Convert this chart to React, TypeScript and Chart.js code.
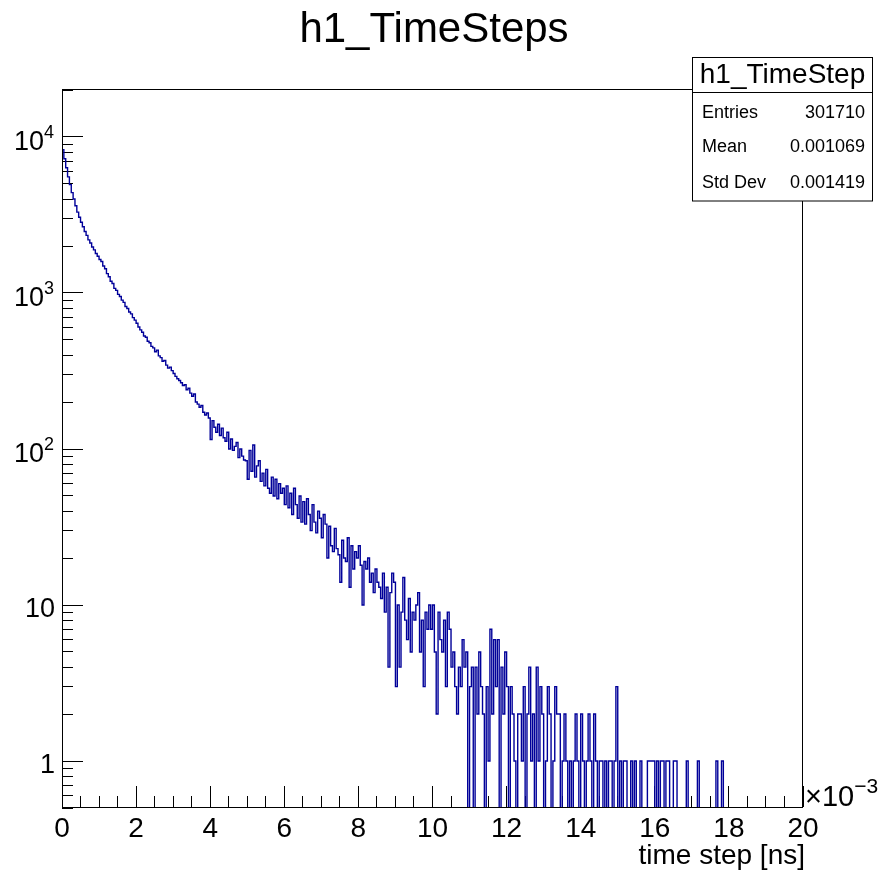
import React, { useEffect, useRef } from 'react';
import { Chart, registerables } from 'chart.js';

Chart.register(...registerables);

// ---------------- data ----------------
const TITLE = 'h1_TimeSteps';
const X_AXIS_TITLE = 'time step [ns]';
const X_EXPONENT_BASE = '\u00d710';
const X_EXPONENT_POWER = '\u22123';
const STATS_NAME = 'h1_TimeStep';
const STATS_LABELS = ['Entries', 'Mean', 'Std Dev'];
const STATS_VALUES = ['301710', '0.001069', '0.001419'];

const X_MIN = 0;
const X_MAX = 0.02;
const Y_MIN = 0.5;
const Y_MAX = 20000;
const BIN_WIDTH = 0.00005; // histogram bin width (same unit as x axis)

const X_TICK_VALUES = [0, 0.002, 0.004, 0.006, 0.008, 0.01, 0.012, 0.014, 0.016, 0.018, 0.02];
const X_TICK_LABELS = ['0', '2', '4', '6', '8', '10', '12', '14', '16', '18', '20'];
const Y_TICK_VALUES = [1, 10, 100, 1000, 10000];
const Y_TICK_BASES = ['1', '10', '10', '10', '10'];
const Y_TICK_POWERS = ['', '', '2', '3', '4'];

// bin contents, 20 bins per 1e-3
const counts0to5 = [
  9800, 8300, 7250, 6350, 5550, 4950, 4400, 4000, 3620, 3300, 3060, 2840, 2660, 2480, 2340, 2190, 2090, 1970, 1890, 1790,
  1720, 1640, 1590, 1490, 1430, 1330, 1270, 1190, 1150, 1070, 1040, 980, 950, 900, 870, 820, 795, 755, 735, 695,
  670, 640, 605, 580, 560, 530, 520, 490, 480, 455, 445, 420, 430, 395, 385, 365, 370, 345, 330, 335,
  318, 305, 292, 282, 275, 266, 255, 258, 240, 245, 228, 218, 225, 200, 194, 185, 190, 172, 165, 170,
  158, 115, 152, 138, 128, 144, 122, 136, 118, 112, 128, 100, 116, 98, 104, 110, 88, 100, 90, 85,
];
const counts5to10 = [
  84, 64, 98, 72, 106, 66, 78, 84, 62, 70, 58, 74, 56, 52, 66, 50, 64, 48, 60, 52,
  56, 44, 58, 42, 52, 38, 56, 44, 36, 50, 34, 46, 33, 48, 38, 30, 44, 34, 29, 40,
  36, 27, 38, 33, 20, 32, 24, 22, 31, 23, 21, 14, 26, 20, 19, 27, 13, 24, 17, 22,
  20, 24, 18, 10, 19, 17, 20, 14, 16, 12, 17, 14, 13, 11, 16, 9, 13, 4, 12, 16,
  14, 3, 10, 4, 9, 15, 8, 6, 11, 5, 9, 8, 10, 12, 5, 8, 3, 9, 7, 10,
];
const counts10to15 = [
  7, 10, 5, 2, 9, 6, 5, 8, 3, 9, 7, 4, 5, 3, 2, 4, 3, 6, 4, 5,
  0, 3, 4, 0, 4, 2, 5, 3, 2, 0, 3, 1, 7, 2, 6, 3, 6, 0, 4, 2,
  5, 3, 0, 3, 2, 1, 0, 2, 2, 1, 3, 0, 2, 4, 1, 2, 0, 4, 1, 3,
  2, 0, 1, 3, 2, 0, 1, 3, 2, 2, 0, 1, 2, 1, 0, 1, 0, 1, 2, 1,
  0, 2, 1, 0, 1, 2, 1, 0, 2, 1, 0, 1, 1, 0, 1, 0, 1, 1, 0, 1,
];
const counts15to20 = [
  3, 0, 1, 0, 1, 1, 0, 0, 1, 0, 1, 0, 0, 1, 0, 0, 0, 1, 1, 1,
  1, 0, 1, 0, 1, 1, 0, 1, 1, 0, 0, 1, 1, 0, 0, 0, 0, 0, 1, 0,
  0, 0, 0, 0, 1, 0, 0, 0, 0, 0, 0, 0, 0, 0, 1, 0, 0, 1, 0, 0,
  0, 0, 0, 0, 0, 0, 0, 0, 0, 0, 0, 0, 0, 0, 0, 0, 0, 0, 0, 0,
  0, 0, 0, 0, 0, 0, 0, 0, 0, 0, 0, 0, 0, 0, 0, 0, 0, 0, 0, 0,
];

const FONT = "'Liberation Sans', Arial, Helvetica, sans-serif";
const LINE_COLOR = '#000099';
const EMPTY_LEVEL = 0.1; // empty bins drop below the axis floor (clipped)

function buildPoints() {
  const counts = [...counts0to5, ...counts5to10, ...counts10to15, ...counts15to20];
  const pts = counts.map((c, i) => ({ x: i * BIN_WIDTH, y: c > 0 ? c : EMPTY_LEVEL }));
  const last = counts[counts.length - 1];
  pts.push({ x: counts.length * BIN_WIDTH, y: last > 0 ? last : EMPTY_LEVEL });
  return pts;
}

const rootStyle = {
  id: 'rootStyle',
  beforeDatasetsDraw(chart: any) {
    const ctx = chart.ctx;
    const xs = chart.scales.x;
    const ys = chart.scales.y;
    const { left, bottom } = chart.chartArea;
    ctx.save();
    ctx.strokeStyle = '#000';
    ctx.lineWidth = 1;
    ctx.beginPath();
    // x ticks (major every 2e-3, minor every 0.5e-3)
    const step = (X_TICK_VALUES[1] - X_TICK_VALUES[0]) / 4;
    const n = Math.round((X_MAX - X_MIN) / step);
    for (let k = 0; k <= n; k++) {
      const px = Math.floor(xs.getPixelForValue(X_MIN + k * step)) + 0.5;
      const len = k % 4 === 0 ? 21 : 11;
      ctx.moveTo(px, bottom - 1);
      ctx.lineTo(px, bottom - 1 - len);
    }
    // y ticks (log)
    for (let e = -1; e <= 4; e++) {
      for (let m = 1; m <= 9; m++) {
        const v = m * Math.pow(10, e);
        if (v < Y_MIN - 1e-9 || v > Y_MAX + 1e-9) continue;
        const py = Math.floor(ys.getPixelForValue(v)) + 0.5;
        const len = m === 1 ? 21 : 11;
        ctx.moveTo(left, py);
        ctx.lineTo(left + len, py);
      }
    }
    ctx.stroke();
    ctx.restore();
  },
  afterDraw(chart: any) {
    const ctx = chart.ctx;
    const xs = chart.scales.x;
    const ys = chart.scales.y;
    const { left, right, top, bottom } = chart.chartArea;
    ctx.save();
    ctx.strokeStyle = '#000';
    ctx.lineWidth = 1;
    // frame
    ctx.strokeRect(left + 0.5, top - 0.5, right - left - 1, bottom - top);

    ctx.fillStyle = '#000';
    // title
    ctx.font = `42px ${FONT}`;
    ctx.textAlign = 'center';
    ctx.textBaseline = 'alphabetic';
    ctx.fillText(TITLE, 434, 42);

    // x tick labels
    ctx.font = `28px ${FONT}`;
    X_TICK_VALUES.forEach((v, i) => {
      ctx.fillText(X_TICK_LABELS[i], xs.getPixelForValue(v), 837);
    });

    // y tick labels
    ctx.textAlign = 'left';
    Y_TICK_VALUES.forEach((v, i) => {
      const py = ys.getPixelForValue(v);
      const base = Y_TICK_BASES[i];
      const pow = Y_TICK_POWERS[i];
      ctx.font = `27px ${FONT}`;
      const wb = ctx.measureText(base).width;
      if (!pow) {
        ctx.fillText(base, 55 - wb, py + 12);
      } else {
        ctx.font = `18px ${FONT}`;
        const wp = ctx.measureText(pow).width;
        const x0 = 54 - wb - wp;
        ctx.font = `27px ${FONT}`;
        ctx.fillText(base, x0, py + 13);
        ctx.font = `18px ${FONT}`;
        ctx.fillText(pow, x0 + wb, py + 1);
      }
    });

    // x exponent
    ctx.font = `29px ${FONT}`;
    const wx = ctx.measureText(X_EXPONENT_BASE).width;
    ctx.fillText(X_EXPONENT_BASE, 805, 806);
    ctx.font = `21px ${FONT}`;
    ctx.fillText(X_EXPONENT_POWER, 805 + wx, 793);

    // x axis title
    ctx.font = `28px ${FONT}`;
    ctx.textAlign = 'right';
    ctx.fillText(X_AXIS_TITLE, 805, 864);

    // stats box
    const bx = 692.5, by = 57.5, bw = 180, bh = 143.5;
    ctx.fillStyle = '#fff';
    ctx.fillRect(bx, by, bw, bh);
    ctx.strokeRect(bx, by, bw, bh);
    ctx.beginPath();
    ctx.moveTo(bx, 92.5);
    ctx.lineTo(bx + bw, 92.5);
    ctx.stroke();
    ctx.fillStyle = '#000';
    ctx.font = `28px ${FONT}`;
    ctx.textAlign = 'center';
    ctx.fillText(STATS_NAME, bx + bw / 2, 83);
    ctx.font = `18px ${FONT}`;
    const rows = [118, 152, 188];
    STATS_LABELS.forEach((lab, i) => {
      ctx.textAlign = 'left';
      ctx.fillText(lab, 702, rows[i]);
      ctx.textAlign = 'right';
      ctx.fillText(STATS_VALUES[i], 865, rows[i]);
    });
    ctx.restore();
  },
};

export default function App() {
  const canvasRef = useRef<HTMLCanvasElement | null>(null);

  useEffect(() => {
    const canvas = canvasRef.current;
    if (!canvas) return;
    const chart = new Chart(canvas, {
      type: 'line',
      data: {
        datasets: [
          {
            data: buildPoints(),
            borderColor: LINE_COLOR,
            borderWidth: 1.4,
            pointRadius: 0,
            stepped: 'after',
            fill: false,
            tension: 0,
          } as any,
        ],
      },
      options: {
        animation: false,
        responsive: false,
        devicePixelRatio: 1,
        events: [],
        layout: { padding: { left: 62, right: 76, top: 90, bottom: 66 } },
        scales: {
          x: { type: 'linear', display: false, min: X_MIN, max: X_MAX, bounds: 'data' } as any,
          y: { type: 'logarithmic', display: false, min: Y_MIN, max: Y_MAX, bounds: 'data' } as any,
        },
        plugins: {
          legend: { display: false },
          tooltip: { enabled: false },
          title: { display: false },
        },
      },
      plugins: [rootStyle],
    });
    return () => chart.destroy();
  }, []);

  return (
    <div style={{ position: 'fixed', left: 0, top: 0, width: 879, height: 874, background: '#fff' }}>
      <canvas ref={canvasRef} width={879} height={874} style={{ display: 'block', width: 879, height: 874 }} />
    </div>
  );
}
